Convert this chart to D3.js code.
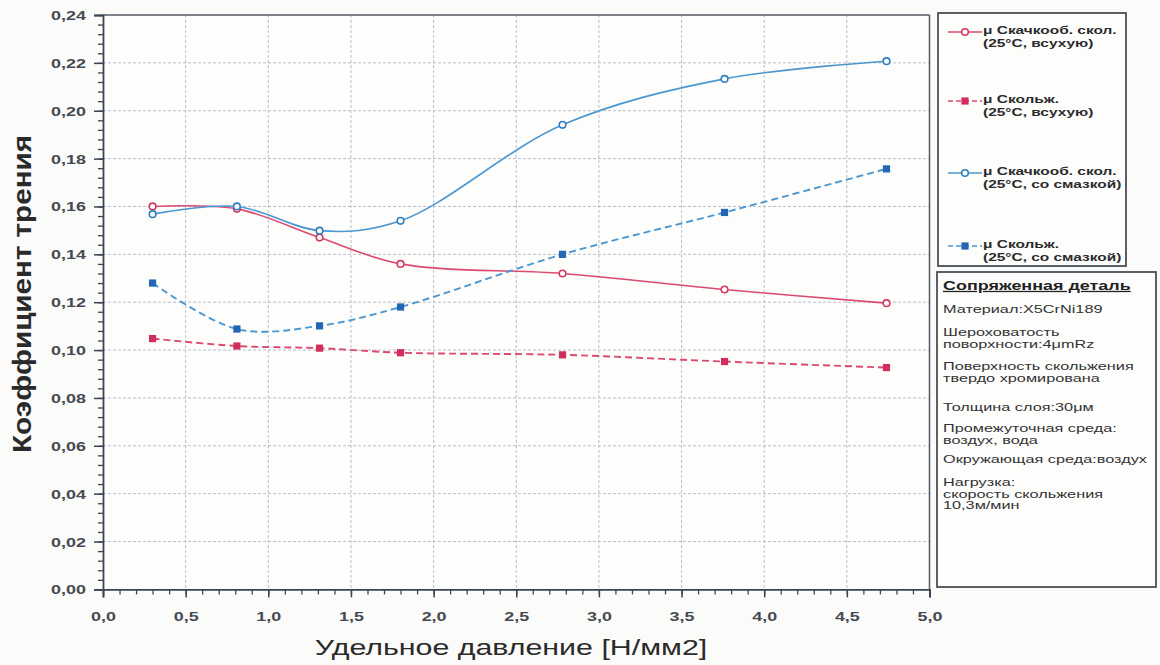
<!DOCTYPE html>
<html><head><meta charset="utf-8">
<script src="https://cdn.jsdelivr.net/npm/d3@7"></script>
<style>
html,body{margin:0;padding:0;background:#fbfbf9;}
svg{display:block;font-family:"Liberation Sans",Arial,sans-serif;}
</style></head>
<body><svg id="c" width="1160" height="665"></svg>
<script>
// ---- data ----
const pressure = [0.3, 0.81, 1.31, 1.8, 2.78, 3.76, 4.74];
const staticDry = [0.160, 0.159, 0.147, 0.136, 0.132, 0.1253, 0.1196];
const slidingDry = [0.1048, 0.1017, 0.1008, 0.0989, 0.098, 0.0952, 0.0927];
const staticLub = [0.1568, 0.160, 0.1499, 0.154, 0.1941, 0.2133, 0.2207];
const slidingLub = [0.128, 0.1088, 0.1101, 0.118, 0.140, 0.1575, 0.1757];
const seriesNames = [
  ["μ Скачкооб. скол.", "(25°C, всухую)"],
  ["μ Скольж.", "(25°C, всухую)"],
  ["μ Скачкооб. скол.", "(25°C, со смазкой)"],
  ["μ Скольж.", "(25°C, со смазкой)"]
];
const xTicks = [0, 0.5, 1, 1.5, 2, 2.5, 3, 3.5, 4, 4.5, 5];
const yTicks = [0, 0.02, 0.04, 0.06, 0.08, 0.10, 0.12, 0.14, 0.16, 0.18, 0.20, 0.22, 0.24];
const xTitle = "Удельное давление [Н/мм2]";
const yTitle = "Коэффициент трения";
const infoTitle = "Сопряженная деталь";
const infoLines = [
  ["Материал:X5CrNi189"],
  ["Шероховатость", "поворхности:4μmRz"],
  ["Поверхность скольжения", "твердо хромирована"],
  ["Толщина слоя:30μм"],
  ["Промежуточная среда:", "воздух, вода"],
  ["Окружающая среда:воздух"],
  ["Нагрузка:", "скорость скольжения", "10,3м/мин"]
];

const SX = 1.38; // horizontal stretch of the scanned original
const svg = d3.select("#c");
const M = {l:103, t:15, r:929.5, b:589.4};
const x = d3.scaleLinear().domain([0,5]).range([M.l, M.r]);
const y = d3.scaleLinear().domain([0,0.24]).range([M.b, M.t]);

const RED = "#dc4a70", RED_D = "#cf2f5a", BLUE = "#4b97cf", BLUE_D = "#2366b3";
const styles = [
  {data: staticDry, color: RED, mark: "circle", mcol: "#d23a62", dash: null},
  {data: slidingDry, color: RED, mark: "square", mcol: RED_D, dash: "7,4"},
  {data: staticLub, color: BLUE, mark: "circle", mcol: "#2f7fc0", dash: null},
  {data: slidingLub, color: BLUE, mark: "square", mcol: BLUE_D, dash: "7,4"}
];

// plot background
svg.append("rect").attr("x",M.l).attr("y",M.t).attr("width",M.r-M.l).attr("height",M.b-M.t).attr("fill","#fdfdfc");

// grid
const grid = svg.append("g").attr("stroke","#b9bdcd").attr("stroke-width",1).attr("stroke-dasharray","3,2");
xTicks.slice(1,-1).forEach(v=>grid.append("line").attr("x1",x(v)).attr("x2",x(v)).attr("y1",M.t).attr("y2",M.b));
yTicks.slice(1,-1).forEach(v=>grid.append("line").attr("y1",y(v)).attr("y2",y(v)).attr("x1",M.l).attr("x2",M.r));

// frame
svg.append("line").attr("x1",M.l).attr("x2",M.r).attr("y1",M.t).attr("y2",M.t).attr("stroke","#555b66").attr("stroke-width",1.5);
svg.append("line").attr("x1",M.r).attr("x2",M.r).attr("y1",M.t).attr("y2",M.b).attr("stroke","#555b66").attr("stroke-width",1.5);

const fmt = v => d3.format(".2f")(v).replace(".", ",");
const fmtX = v => d3.format(".1f")(v).replace(".", ",");

// minor ticks
const minorY = d3.range(0, 0.2401, 0.004);
const minorX = d3.range(0, 5.001, 0.1);
svg.append("g").attr("transform",`translate(${M.l},0)`)
  .call(d3.axisLeft(y).tickValues(minorY).tickSize(5).tickFormat(""))
  .call(g=>{g.select(".domain").remove(); g.selectAll("line").attr("stroke","#3c4454").attr("stroke-width",1.3);});
svg.append("g").attr("transform",`translate(0,${M.b})`)
  .call(d3.axisBottom(x).tickValues(minorX).tickSize(5).tickFormat(""))
  .call(g=>{g.select(".domain").remove(); g.selectAll("line").attr("stroke","#3c4454").attr("stroke-width",1.3);});

// major axes
const ya = svg.append("g").attr("transform",`translate(${M.l},0)`)
  .call(d3.axisLeft(y).tickValues(yTicks).tickSize(9).tickFormat(fmt));
ya.select(".domain").attr("stroke","#3c4454").attr("stroke-width",1.8);
ya.selectAll("line").attr("stroke","#3c4454").attr("stroke-width",1.5);
ya.selectAll("text").attr("x",null).attr("dy",null)
  .attr("transform",`translate(-17,4.5) scale(${SX},1)`)
  .attr("text-anchor","end").attr("fill","#454a52")
  .style("font-size","13px").style("font-weight","bold").style("font-family","Liberation Sans, Arial, sans-serif");

const xa = svg.append("g").attr("transform",`translate(0,${M.b})`)
  .call(d3.axisBottom(x).tickValues(xTicks).tickSize(8).tickFormat(fmtX));
xa.select(".domain").attr("stroke","#3c4454").attr("stroke-width",1.8);
xa.selectAll("line").attr("stroke","#3c4454").attr("stroke-width",1.5);
xa.selectAll("text").attr("y",null).attr("dy",null)
  .attr("transform",`translate(0,32) scale(${SX},1)`)
  .attr("text-anchor","middle").attr("fill","#454a52")
  .style("font-size","13px").style("font-weight","bold").style("font-family","Liberation Sans, Arial, sans-serif");

// series
const lineGen = d3.line().curve(d3.curveCatmullRom.alpha(0.5)).x(d=>x(d[0])).y(d=>y(d[1]));
function marker(g, cx, cy, s){
  if (s.mark === "circle") {
    g.append("circle").attr("cx",cx).attr("cy",cy).attr("r",3.3)
      .attr("fill","#fdfdfc").attr("stroke",s.mcol).attr("stroke-width",1.6);
  } else {
    g.append("rect").attr("x",cx-3.6).attr("y",cy-3.6).attr("width",7.2).attr("height",7.2)
      .attr("fill",s.mcol);
  }
}
styles.forEach(s=>{
  const pts = pressure.map((p,i)=>[p, s.data[i]]);
  svg.append("path").attr("d", lineGen(pts)).attr("fill","none")
    .attr("stroke", s.color).attr("stroke-width", s.dash ? 1.9 : 1.6)
    .attr("stroke-dasharray", s.dash);
  const g = svg.append("g");
  pts.forEach(p=>marker(g, x(p[0]), y(p[1]), s));
});

// axis titles
svg.append("text").attr("transform",`translate(511,655) scale(${SX},1)`)
  .attr("text-anchor","middle").attr("fill","#2a2a2a")
  .style("font-size","22px").text(xTitle);
svg.append("text").attr("transform",`translate(31,294) scale(${SX},1) rotate(-90)`)
  .attr("text-anchor","middle").attr("fill","#2a2a2a")
  .attr("textLength",318).attr("lengthAdjust","spacingAndGlyphs")
  .style("font-size","19px").style("font-weight","bold").text(yTitle);

// legend box
svg.append("rect").attr("x",938).attr("y",13).attr("width",188).attr("height",253)
  .attr("fill","#fdfdfc").attr("stroke","#4a4f58").attr("stroke-width",1.8);
const legY = [32, 101, 173, 246];
styles.forEach((s,i)=>{
  const ly = legY[i];
  svg.append("line").attr("x1",948).attr("x2",982).attr("y1",ly).attr("y2",ly)
    .attr("stroke",s.color).attr("stroke-width",1.6).attr("stroke-dasharray", s.dash ? "5,3" : null);
  marker(svg, 965, ly, s);
  seriesNames[i].forEach((t,j)=>{
    svg.append("text").attr("transform",`translate(983,${ly+2+j*13}) scale(${SX},1)`)
      .attr("fill","#2b2b2b").style("font-size","11.2px").style("font-weight","bold").text(t);
  });
});

// info box
svg.append("rect").attr("x",937).attr("y",272).attr("width",219).attr("height",315)
  .attr("fill","#fdfdfc").attr("stroke","#4a4f58").attr("stroke-width",1.8);
svg.append("text").attr("transform",`translate(943,290) scale(${SX},1)`)
  .attr("fill","#222").style("font-size","13px").style("font-weight","bold")
  .style("text-decoration","underline").text(infoTitle);
const groupY = [313, 336, 370, 411, 432, 463, 486];
infoLines.forEach((grp,gi)=>{
  grp.forEach((t,j)=>{
    svg.append("text").attr("transform",`translate(943,${groupY[gi]+j*11.5}) scale(${SX},1)`)
      .attr("fill","#333").style("font-size","11.8px").text(t);
  });
});
</script>
</body></html>
